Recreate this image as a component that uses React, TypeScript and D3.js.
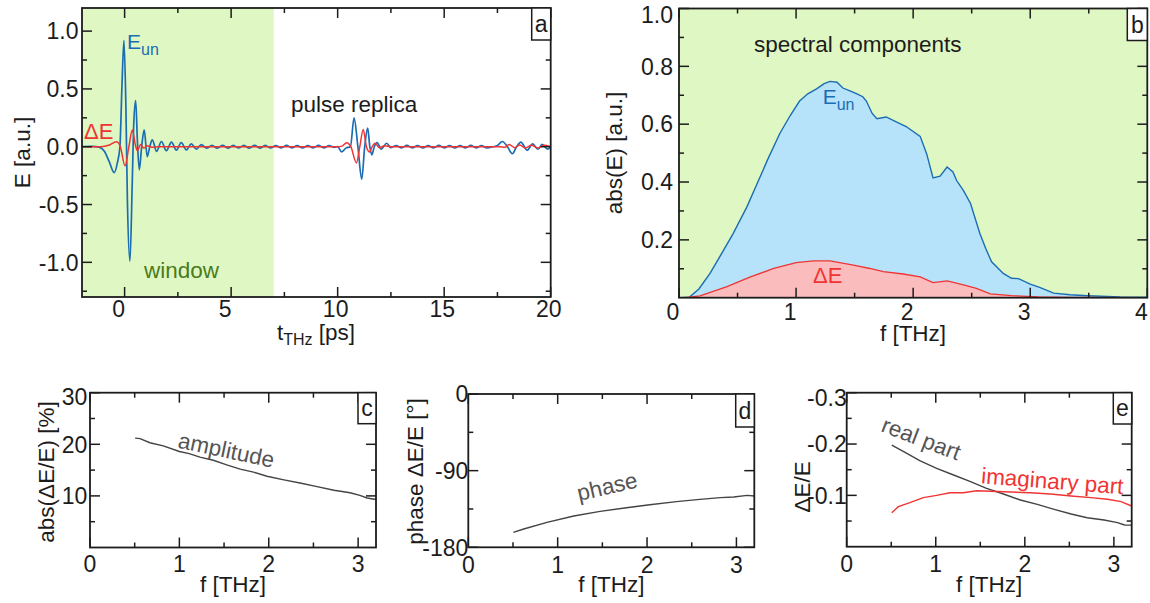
import React from 'react';
import * as d3 from 'd3';

const FONT = '"Liberation Sans", Arial, Helvetica, sans-serif';
const INK = '#1c1c1c';
const GREEN = '#dff7c2';
const WINDOW_TEXT = '#4c7a1c';
const BLUE = '#1a6db3';
const BLUE_FILL = '#b6e2fa';
const RED = '#f03434';
const RED_FILL = '#fbbcbd';
const GREY = '#444444';
const GREY_TEXT = '#555555';

// ---- panel a: time-domain traces, [t (ps), E (a.u.)]
const eUnTrace: [number, number][] = [
  [-2.0, 0.0], [-1.5, 0.003], [-1.2, -0.004], [-0.95, -0.04], [-0.72, -0.13], [-0.49, -0.224],
  [-0.34, -0.14], [-0.22, 0.0], [-0.12, 0.55], [-0.03, 0.92], [0.06, 0.35], [0.13, -0.45],
  [0.25, -0.99], [0.36, -0.3], [0.43, 0.2], [0.52, 0.4], [0.6, 0.05], [0.69, -0.2], [0.8, 0.0],
  [0.92, 0.145], [1.06, -0.086], [1.18, 0.0], [1.3, 0.06], [1.5, -0.04], [1.73, 0.045],
  [1.96, -0.035], [2.2, 0.04], [2.43, -0.03], [2.66, 0.035], [2.9, -0.028], [3.13, 0.025],
  [3.37, -0.02], [3.6, 0.018], [3.85, -0.013], [4.1, 0.012], [4.35, -0.012], [4.6, 0.011],
  [4.85, -0.012], [5.1, 0.012], [5.35, -0.011], [5.6, 0.012], [5.85, -0.012], [6.1, 0.011],
  [6.35, -0.012], [6.6, 0.012], [6.85, -0.011], [7.1, 0.01], [7.35, -0.01], [7.6, 0.011],
  [7.85, -0.01], [8.1, 0.01], [8.35, -0.011], [8.6, 0.01], [8.85, -0.01], [9.1, 0.011],
  [9.35, -0.01], [9.6, 0.01], [9.85, -0.005],
  [10.0, 0.0], [10.19, -0.045], [10.4, -0.01], [10.6, 0.0], [10.77, 0.25], [10.95, 0.0],
  [11.13, -0.28], [11.27, 0.0], [11.41, 0.16], [11.51, 0.0], [11.6, -0.07], [11.72, 0.0],
  [11.85, 0.035], [12.05, -0.02], [12.3, 0.03], [12.5, -0.008], [12.75, 0.01], [13.0, -0.01],
  [13.25, 0.011], [13.5, -0.01], [13.75, 0.01], [14.0, -0.011], [14.25, 0.01], [14.5, -0.01],
  [14.75, 0.011], [15.0, -0.01], [15.25, 0.01], [15.5, -0.011], [15.75, 0.01], [16.0, -0.01],
  [16.25, 0.011], [16.5, -0.01], [16.75, 0.01], [17.0, -0.01], [17.3, 0.0], [17.5, 0.01],
  [17.73, 0.045], [17.97, 0.0], [18.2, -0.06], [18.4, 0.0], [18.6, 0.04], [18.9, -0.03],
  [19.15, 0.025], [19.4, -0.022], [19.6, 0.02], [19.85, -0.02], [20.0, 0.0],
];

const deltaETrace: [number, number][] = [
  [-2.0, 0.0], [-1.1, 0.0], [-0.75, 0.012], [-0.38, 0.043], [-0.2, 0.0], [0.02, -0.165],
  [0.2, 0.0], [0.36, 0.145], [0.5, 0.02], [0.6, -0.035], [0.75, 0.02], [0.9, -0.012],
  [1.05, 0.008], [1.3, -0.004], [1.6, 0.0], [10.0, 0.0], [10.2, 0.005], [10.42, 0.035],
  [10.62, 0.0], [10.88, -0.14], [11.04, 0.0], [11.2, 0.15], [11.35, 0.0], [11.5, -0.045],
  [11.62, 0.0], [11.76, 0.03], [11.95, -0.008], [12.2, 0.008], [12.5, 0.0], [17.6, 0.0],
  [17.85, -0.005], [18.05, 0.02], [18.3, -0.008], [18.55, 0.015], [18.8, -0.01], [19.1, 0.012],
  [19.4, -0.01], [19.7, 0.012], [20.0, 0.0],
];

const windowRange: [number, number] = [-2, 7];

// ---- panel b: spectra, [f (THz), abs(E) (a.u.)]
const eUnSpectrum: [number, number][] = [
  [0, 0], [0.09, 0.002], [0.17, 0.03], [0.265, 0.084], [0.36, 0.15], [0.46, 0.22], [0.58, 0.314],
  [0.68, 0.406], [0.76, 0.48], [0.86, 0.567], [0.95, 0.63], [1.03, 0.68], [1.1, 0.705],
  [1.175, 0.722], [1.24, 0.74], [1.29, 0.748], [1.35, 0.745], [1.4, 0.725], [1.46, 0.715],
  [1.52, 0.705], [1.57, 0.695], [1.6, 0.68], [1.65, 0.637], [1.69, 0.619], [1.77, 0.625],
  [1.86, 0.607], [1.94, 0.592], [2.06, 0.558], [2.115, 0.498], [2.17, 0.414], [2.23, 0.42],
  [2.29, 0.452], [2.34, 0.435], [2.37, 0.406], [2.43, 0.37], [2.49, 0.326], [2.57, 0.222],
  [2.62, 0.17], [2.67, 0.124], [2.77, 0.084], [2.84, 0.067], [2.9, 0.066], [3.0, 0.047],
  [3.08, 0.036], [3.2, 0.016], [3.34, 0.01], [3.49, 0.007], [3.77, 0.003], [4.0, 0.002],
];

const deltaESpectrum: [number, number][] = [
  [0, 0], [0.05, 0.0], [0.18, 0.006], [0.41, 0.038], [0.61, 0.072], [0.81, 0.101], [1.0, 0.121],
  [1.15, 0.127], [1.29, 0.127], [1.49, 0.113], [1.63, 0.101], [1.745, 0.09], [1.915, 0.082],
  [2.06, 0.072], [2.17, 0.052], [2.29, 0.058], [2.43, 0.044], [2.54, 0.032], [2.66, 0.013],
  [2.84, 0.007], [3.07, 0.003], [3.35, 0.001], [4.0, 0.0],
];

// ---- panel c: abs(dE/E) in %, [f (THz), value]
const amplitudeRatio: [number, number][] = [
  [0.505, 21.2], [0.56, 21.1], [0.67, 20.3], [0.82, 19.7], [1.0, 18.6], [1.11, 18.2],
  [1.23, 17.5], [1.38, 16.9], [1.53, 16.0], [1.68, 15.2], [1.83, 14.6], [1.98, 13.8],
  [2.17, 13.1], [2.35, 12.5], [2.54, 11.8], [2.73, 11.1], [2.91, 10.6], [3.02, 10.1],
  [3.1, 9.6], [3.2, 9.3],
];

// ---- panel d: phase of dE/E in degrees
const phaseRatio: [number, number][] = [
  [0.504, -162.4], [0.62, -158.5], [0.88, -150.7], [1.18, -143.2], [1.475, -137.8],
  [1.77, -133.5], [2.03, -130.0], [2.33, -126.4], [2.59, -123.7], [2.82, -121.7],
  [2.97, -121.0], [3.12, -119.0], [3.2, -119.8],
];

// ---- panel e: real and imaginary part of dE/E
const realPart: [number, number][] = [
  [0.506, -0.198], [0.64, -0.185], [0.82, -0.1676], [1.01, -0.1527], [1.2, -0.1397],
  [1.39, -0.1266], [1.57, -0.1137], [1.76, -0.1026], [1.95, -0.091], [2.14, -0.0825],
  [2.33, -0.0728], [2.52, -0.0637], [2.7, -0.0565], [2.89, -0.052], [3.04, -0.047],
  [3.12, -0.0423], [3.2, -0.042],
];

const imagPart: [number, number][] = [
  [0.506, -0.066], [0.58, -0.078], [0.71, -0.0857], [0.86, -0.0955], [1.01, -0.1],
  [1.16, -0.105], [1.31, -0.105], [1.46, -0.109], [1.61, -0.108], [1.84, -0.1066],
  [2.06, -0.105], [2.29, -0.1026], [2.52, -0.0988], [2.74, -0.0955], [2.93, -0.0923],
  [3.08, -0.0877], [3.2, -0.0793],
];

// ---- tick values
const aXMajor = [0, 5, 10, 15, 20];
const aXMinor = [2.5, 7.5, 12.5, 17.5];
const aYMajor = [-1.0, -0.5, 0.0, 0.5, 1.0];
const aYMinor = [-1.25, -0.75, -0.25, 0.25, 0.75];
const bXMajor = [0, 1, 2, 3, 4];
const bXMinor = [0.5, 1.5, 2.5, 3.5];
const bYMajor = [0.2, 0.4, 0.6, 0.8, 1.0];
const bYMinor = [0.1, 0.3, 0.5, 0.7, 0.9];
const fMajor = [0, 1, 2, 3];
const fMinor = [0.5, 1.5, 2.5];
const cYMajor = [10, 20, 30];
const cYMinor = [5, 15, 25];
const dYMajor = [-180, -90, 0];
const dYMinor = [-135, -45];
const eYMajor = [-0.3, -0.2, -0.1];
const eYMinor = [-0.25, -0.15, -0.05];

type Scale = d3.ScaleLinear<number, number>;
type Box = { l: number; r: number; t: number; b: number };

const boxA: Box = { l: 82, r: 550.7, t: 8, b: 297 };
const boxB: Box = { l: 679, r: 1147.3, t: 8.5, b: 297.7 };
const boxC: Box = { l: 90, r: 376, t: 392.7, b: 547.5 };
const boxD: Box = { l: 468.3, r: 754.3, t: 394, b: 547.3 };
const boxE: Box = { l: 846.7, r: 1131.7, t: 392.7, b: 546.7 };

const TICK_SIZE = 23;
const LABEL_SIZE = 22.5;

interface FrameProps {
  x: Scale;
  y: Scale;
  xMajor: number[];
  xMinor: number[];
  yMajor: number[];
  yMinor: number[];
  xFmt: (v: number) => string;
  yFmt: (v: number) => string;
  xLabelBase: number;
  xShift: (s: string) => number;
  yGap: number;
  topShift?: number;
  tag: string;
  tagW: number;
  tagH: number;
}

function Frame(p: FrameProps) {
  const [x0, x1] = p.x.range();
  const [yb, yt] = p.y.range();
  const MAJ = 10;
  const MIN = 5;
  const segs: [number, number, number, number][] = [];
  const addX = (vals: number[], len: number) =>
    vals.forEach((v) => {
      const px = p.x(v);
      segs.push([px, yb, px, yb - len], [px, yt, px, yt + len]);
    });
  const addY = (vals: number[], len: number) =>
    vals.forEach((v) => {
      const py = p.y(v);
      segs.push([x0, py, x0 + len, py], [x1, py, x1 - len, py]);
    });
  addX(p.xMajor, MAJ);
  addX(p.xMinor, MIN);
  addY(p.yMajor, MAJ);
  addY(p.yMinor, MIN);
  const topShift = p.topShift || 0;
  return (
    <g>
      {segs.map((s, i) => (
        <line key={i} x1={s[0]} y1={s[1]} x2={s[2]} y2={s[3]} stroke={INK} strokeWidth={1.5} />
      ))}
      <rect x={x0} y={yt} width={x1 - x0} height={yb - yt} fill="none" stroke={INK} strokeWidth={1.8} />
      {p.xMajor.map((v) => {
        const s = p.xFmt(v);
        return (
          <text key={'x' + v} x={p.x(v) + p.xShift(s)} y={yb + p.xLabelBase} textAnchor="middle"
            fontSize={TICK_SIZE} fill={INK}>{s}</text>
        );
      })}
      {p.yMajor.map((v) => {
        const py = p.y(v);
        const shift = Math.abs(py - yt) < 1 ? topShift : 0;
        return (
          <text key={'y' + v} x={x0 - p.yGap} y={py + shift} dy="0.36em" textAnchor="end"
            fontSize={TICK_SIZE} fill={INK}>{p.yFmt(v)}</text>
        );
      })}
      <rect x={x1 - p.tagW} y={yt} width={p.tagW} height={p.tagH} fill="#fff" stroke={INK} strokeWidth={1.5} />
      <text x={x1 - p.tagW / 2} y={yt + p.tagH - 8} textAnchor="middle" fontSize={TICK_SIZE} fill={INK}>{p.tag}</text>
    </g>
  );
}

function makeX(box: Box, domain: [number, number]) {
  return d3.scaleLinear().domain(domain).range([box.l, box.r]);
}
function makeY(box: Box, domain: [number, number]) {
  return d3.scaleLinear().domain(domain).range([box.b, box.t]);
}

function linePath(data: [number, number][], x: Scale, y: Scale, curve: d3.CurveFactory) {
  return d3.line<[number, number]>().x((d) => x(d[0])).y((d) => y(d[1])).curve(curve)(data) || '';
}

function YTitle({ x, y, children, size = LABEL_SIZE }: { x: number; y: number; children: React.ReactNode; size?: number }) {
  return (
    <text transform={`translate(${x},${y}) rotate(-90)`} textAnchor="middle" fontSize={size} fill={INK}>
      {children}
    </text>
  );
}

export default function App() {
  // panel a
  const xa = makeX(boxA, [-2, 20]);
  const ya = makeY(boxA, [-1.3, 1.2]);
  // panel b
  const xb = makeX(boxB, [0, 4]);
  const yb = makeY(boxB, [0, 1]);
  // panels c-e
  const xc = makeX(boxC, [0, 3.2]);
  const yc = makeY(boxC, [0, 30]);
  const xd = makeX(boxD, [0, 3.2]);
  const yd = makeY(boxD, [-180, 0]);
  const xe = makeX(boxE, [0, 3.2]);
  const ye = makeY(boxE, [0, -0.3]);

  const areaB = (data: [number, number][]) =>
    d3.area<[number, number]>().x((d) => xb(d[0])).y0(yb(0)).y1((d) => yb(d[1]))(data) || '';

  const int = (v: number) => String(v);
  const one = (v: number) => v.toFixed(1);
  const shiftA = (s: string) => (s.length === 1 ? -6 : -2);
  const shiftB = () => -6;
  const none = () => 0;

  return (
    <svg width={1150} height={603} style={{ position: 'absolute', left: 0, top: 0, display: 'block' }}
      fontFamily={FONT}>
      <rect x={0} y={0} width={1150} height={603} fill="#fff" />
      <defs>
        <clipPath id="clipA"><rect x={boxA.l} y={boxA.t} width={boxA.r - boxA.l} height={boxA.b - boxA.t} /></clipPath>
        <clipPath id="clipB"><rect x={boxB.l} y={boxB.t} width={boxB.r - boxB.l} height={boxB.b - boxB.t} /></clipPath>
      </defs>

      {/* a: time traces */}
      <rect x={xa(windowRange[0])} y={boxA.t} width={xa(windowRange[1]) - xa(windowRange[0])}
        height={boxA.b - boxA.t} fill={GREEN} />
      <g clipPath="url(#clipA)">
        <path d={linePath(eUnTrace, xa, ya, d3.curveMonotoneX)} fill="none" stroke={BLUE} strokeWidth={1.7} />
        <path d={linePath(deltaETrace, xa, ya, d3.curveMonotoneX)} fill="none" stroke={RED} strokeWidth={1.5} />
      </g>
      <text x={127} y={49} fontSize={21} fill={BLUE}>E<tspan fontSize={16} dy={6}>un</tspan></text>
      <text x={84} y={139} fontSize={22} fill={RED}>ΔE</text>
      <text x={291} y={111.5} fontSize={LABEL_SIZE} fill={INK}>pulse replica</text>
      <text x={144} y={278.3} fontSize={LABEL_SIZE} fill={WINDOW_TEXT}>window</text>
      <Frame x={xa} y={ya} xMajor={aXMajor} xMinor={aXMinor} yMajor={aYMajor} yMinor={aYMinor}
        xFmt={int} yFmt={one} xLabelBase={20} xShift={shiftA} yGap={3.5} tag="a" tagW={19} tagH={32} />
      <YTitle x={30} y={152.5}>E [a.u.]</YTitle>
      <text x={316} y={340} textAnchor="middle" fontSize={LABEL_SIZE} fill={INK}>
        t<tspan fontSize={16} dy={5}>THz</tspan><tspan dy={-5}> [ps]</tspan>
      </text>

      {/* b: spectra */}
      <rect x={boxB.l} y={boxB.t} width={boxB.r - boxB.l} height={boxB.b - boxB.t} fill={GREEN} />
      <g clipPath="url(#clipB)">
        <path d={areaB(eUnSpectrum)} fill={BLUE_FILL} />
        <path d={linePath(eUnSpectrum, xb, yb, d3.curveLinear)} fill="none" stroke={BLUE} strokeWidth={1.4} />
        <path d={areaB(deltaESpectrum)} fill={RED_FILL} />
        <path d={linePath(deltaESpectrum, xb, yb, d3.curveLinear)} fill="none" stroke={RED} strokeWidth={1.3} />
      </g>
      <text x={754} y={52} fontSize={LABEL_SIZE} fill={INK}>spectral components</text>
      <text x={822.7} y={104} fontSize={21} fill={BLUE}>E<tspan fontSize={16} dy={6}>un</tspan></text>
      <text x={813} y={283} fontSize={22} fill={RED}>ΔE</text>
      <Frame x={xb} y={yb} xMajor={bXMajor} xMinor={bXMinor} yMajor={bYMajor} yMinor={bYMinor}
        xFmt={int} yFmt={one} xLabelBase={22} xShift={shiftB} yGap={6} topShift={6.5}
        tag="b" tagW={20} tagH={32} />
      <YTitle x={622} y={153}>abs(E) [a.u.]</YTitle>
      <text x={913} y={341} textAnchor="middle" fontSize={LABEL_SIZE} fill={INK}>f [THz]</text>

      {/* c: amplitude ratio */}
      <path d={linePath(amplitudeRatio, xc, yc, d3.curveLinear)} fill="none" stroke={GREY} strokeWidth={1.4} />
      <text transform="translate(177,447.5) rotate(12)" fontSize={LABEL_SIZE} fill={GREY_TEXT}>amplitude</text>
      <Frame x={xc} y={yc} xMajor={fMajor} xMinor={fMinor} yMajor={cYMajor} yMinor={cYMinor}
        xFmt={int} yFmt={int} xLabelBase={24.5} xShift={none} yGap={2.7} topShift={4}
        tag="c" tagW={18} tagH={31} />
      <YTitle x={54} y={472}>abs(ΔE/E) [%]</YTitle>
      <text x={(boxC.l + boxC.r) / 2} y={591.5} textAnchor="middle" fontSize={LABEL_SIZE} fill={INK}>f [THz]</text>

      {/* d: phase */}
      <path d={linePath(phaseRatio, xd, yd, d3.curveLinear)} fill="none" stroke={GREY} strokeWidth={1.4} />
      <text transform="translate(579,501) rotate(-13)" fontSize={LABEL_SIZE} fill={GREY_TEXT}>phase</text>
      <Frame x={xd} y={yd} xMajor={fMajor} xMinor={fMinor} yMajor={dYMajor} yMinor={dYMinor}
        xFmt={int} yFmt={int} xLabelBase={25.5} xShift={none} yGap={0} tag="d" tagW={18.6} tagH={33} />
      <YTitle x={423} y={471.5}>phase ΔE/E [°]</YTitle>
      <text x={(boxD.l + boxD.r) / 2} y={591.5} textAnchor="middle" fontSize={LABEL_SIZE} fill={INK}>f [THz]</text>

      {/* e: real and imaginary parts */}
      <path d={linePath(realPart, xe, ye, d3.curveLinear)} fill="none" stroke={GREY} strokeWidth={1.4} />
      <path d={linePath(imagPart, xe, ye, d3.curveLinear)} fill="none" stroke={RED} strokeWidth={1.4} />
      <text transform="translate(880,431) rotate(21)" fontSize={LABEL_SIZE} fill={GREY_TEXT}>real part</text>
      <text transform="translate(980.7,483.3) rotate(4.4)" fontSize={LABEL_SIZE} fill={RED}>imaginary part</text>
      <Frame x={xe} y={ye} xMajor={fMajor} xMinor={fMinor} yMajor={eYMajor} yMinor={eYMinor}
        xFmt={int} yFmt={one} xLabelBase={25} xShift={none} yGap={0} topShift={5}
        tag="e" tagW={18.4} tagH={31.3} />
      <YTitle x={810} y={487}>ΔE/E</YTitle>
      <text x={(boxE.l + boxE.r) / 2} y={591.5} textAnchor="middle" fontSize={LABEL_SIZE} fill={INK}>f [THz]</text>
    </svg>
  );
}
